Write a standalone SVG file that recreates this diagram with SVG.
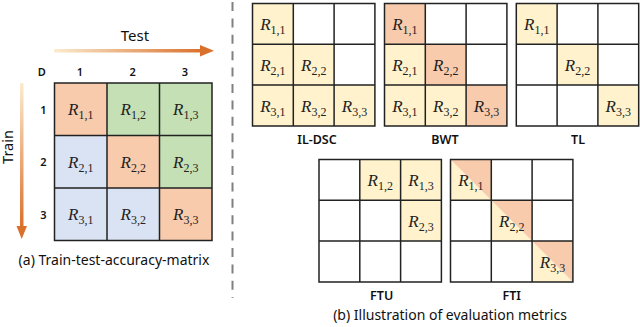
<svg xmlns="http://www.w3.org/2000/svg" width="640" height="327" viewBox="0 0 640 327">
<defs>
<linearGradient id="gh" x1="0" y1="0" x2="1" y2="0">
<stop offset="0" stop-color="#FBEBCF"/>
<stop offset="1" stop-color="#D9712C"/>
</linearGradient>
<linearGradient id="gv" x1="0" y1="0" x2="0" y2="1">
<stop offset="0" stop-color="#FBEBCF"/>
<stop offset="1" stop-color="#D9712C"/>
</linearGradient>
<style>
.g{stroke:#222;stroke-width:1.5;fill:none}
.o{fill:#F8CBAD}.gr{fill:#C5E0B4}.b{fill:#DAE3F3}.y{fill:#FFF2CC}
.r{font-family:"Liberation Serif","DejaVu Serif",serif;font-style:italic;font-size:17px;fill:#222;text-anchor:middle}
.r tspan{font-style:normal;font-size:12px}
.s{font-family:"Noto Sans","Liberation Sans",sans-serif;fill:#111;text-anchor:middle}
.h{font-size:11px;font-weight:600}
.l{font-size:12.5px;font-weight:600}
.c{font-size:14px}
</style>
</defs>

<g id="test-arrow">
<rect x="54" y="49" width="148" height="3.5" fill="url(#gh)"/>
<polygon points="200,45 214,50.7 200,56.5" fill="#D9712C"/>
<text class="s" x="135" y="41" font-size="15px">Test</text>
</g>
<g id="train-arrow">
<rect x="20" y="83" width="3.5" height="144" fill="url(#gv)"/>
<polygon points="16.5,226 21.7,239 27,226" fill="#D9712C"/>
<text class="s" transform="translate(12.5,147) rotate(-90)" font-size="14.5px">Train</text>
</g>

<g id="matrix-a">
<text class="s h" x="41.7" y="75.7">D</text>
<text class="s h" x="80" y="75.7">1</text>
<text class="s h" x="132.7" y="75.7">2</text>
<text class="s h" x="185" y="75.7">3</text>
<text class="s h" x="43.3" y="113.5">1</text>
<text class="s h" x="43.3" y="166">2</text>
<text class="s h" x="43.3" y="218.5">3</text>
<rect class="o" x="54.5" y="83" width="52.5" height="52.5"/>
<rect class="gr" x="107" y="83" width="52.5" height="52.5"/>
<rect class="gr" x="159.5" y="83" width="52.5" height="52.5"/>
<rect class="b" x="54.5" y="135.5" width="52.5" height="52.5"/>
<rect class="o" x="107" y="135.5" width="52.5" height="52.5"/>
<rect class="gr" x="159.5" y="135.5" width="52.5" height="52.5"/>
<rect class="b" x="54.5" y="188" width="52.5" height="52.5"/>
<rect class="b" x="107" y="188" width="52.5" height="52.5"/>
<rect class="o" x="159.5" y="188" width="52.5" height="52.5"/>
<path class="g" d="M54.5,83H212V240.5H54.5Z M107,83V240.5 M159.5,83V240.5 M54.5,135.5H212 M54.5,188H212"/>
<text class="r" x="80.75" y="115">R<tspan dy="4">1,1</tspan></text>
<text class="r" x="133.25" y="115">R<tspan dy="4">1,2</tspan></text>
<text class="r" x="185.75" y="115">R<tspan dy="4">1,3</tspan></text>
<text class="r" x="80.75" y="167.5">R<tspan dy="4">2,1</tspan></text>
<text class="r" x="133.25" y="167.5">R<tspan dy="4">2,2</tspan></text>
<text class="r" x="185.75" y="167.5">R<tspan dy="4">2,3</tspan></text>
<text class="r" x="80.75" y="220">R<tspan dy="4">3,1</tspan></text>
<text class="r" x="133.25" y="220">R<tspan dy="4">3,2</tspan></text>
<text class="r" x="185.75" y="220">R<tspan dy="4">3,3</tspan></text>
<text class="s c" x="114" y="265">(a) Train-test-accuracy-matrix</text>
</g>

<g id="separator">
<line x1="232.5" y1="2" x2="232.5" y2="298" stroke="#808080" stroke-width="2" stroke-dasharray="9,7.4"/>
</g>

<g id="il-dsc">
<rect class="y" x="252.5" y="3.5" width="40.8" height="40.8"/>
<rect class="y" x="252.5" y="44.3" width="81.6" height="40.8"/>
<rect class="y" x="252.5" y="85.1" width="122.4" height="40.8"/>
<path class="g" d="M252.5,3.5h122.4v122.4h-122.4Z M293.3,3.5v122.4 M334.1,3.5v122.4 M252.5,44.3h122.4 M252.5,85.1h122.4"/>
<text class="r" x="272.9" y="30">R<tspan dy="4">1,1</tspan></text>
<text class="r" x="272.9" y="70.8">R<tspan dy="4">2,1</tspan></text>
<text class="r" x="313.7" y="70.8">R<tspan dy="4">2,2</tspan></text>
<text class="r" x="272.9" y="111.6">R<tspan dy="4">3,1</tspan></text>
<text class="r" x="313.7" y="111.6">R<tspan dy="4">3,2</tspan></text>
<text class="r" x="354.5" y="111.6">R<tspan dy="4">3,3</tspan></text>
<text class="s l" x="317" y="144">IL-DSC</text>
</g>

<g id="bwt">
<rect class="o" x="384.5" y="3.5" width="40.8" height="40.8"/>
<rect class="y" x="384.5" y="44.3" width="40.8" height="40.8"/>
<rect class="o" x="425.3" y="44.3" width="40.8" height="40.8"/>
<rect class="y" x="384.5" y="85.1" width="81.6" height="40.8"/>
<rect class="o" x="466.1" y="85.1" width="40.8" height="40.8"/>
<path class="g" d="M384.5,3.5h122.4v122.4h-122.4Z M425.3,3.5v122.4 M466.1,3.5v122.4 M384.5,44.3h122.4 M384.5,85.1h122.4"/>
<text class="r" x="404.9" y="30">R<tspan dy="4">1,1</tspan></text>
<text class="r" x="404.9" y="70.8">R<tspan dy="4">2,1</tspan></text>
<text class="r" x="445.7" y="70.8">R<tspan dy="4">2,2</tspan></text>
<text class="r" x="404.9" y="111.6">R<tspan dy="4">3,1</tspan></text>
<text class="r" x="445.7" y="111.6">R<tspan dy="4">3,2</tspan></text>
<text class="r" x="486.5" y="111.6">R<tspan dy="4">3,3</tspan></text>
<text class="s l" x="445" y="144">BWT</text>
</g>

<g id="tl">
<rect class="y" x="516.3" y="3.5" width="40.8" height="40.8"/>
<rect class="y" x="557.1" y="44.3" width="40.8" height="40.8"/>
<rect class="y" x="597.9" y="85.1" width="40.8" height="40.8"/>
<path class="g" d="M516.3,3.5h122.4v122.4h-122.4Z M557.1,3.5v122.4 M597.9,3.5v122.4 M516.3,44.3h122.4 M516.3,85.1h122.4"/>
<text class="r" x="536.7" y="30">R<tspan dy="4">1,1</tspan></text>
<text class="r" x="577.5" y="70.8">R<tspan dy="4">2,2</tspan></text>
<text class="r" x="618.3" y="111.6">R<tspan dy="4">3,3</tspan></text>
<text class="s l" x="578" y="144">TL</text>
</g>

<g id="ftu">
<rect class="y" x="359.8" y="159.5" width="81.6" height="40.8"/>
<rect class="y" x="400.6" y="200.3" width="40.8" height="40.8"/>
<path class="g" d="M319,159.5h122.4v122.4h-122.4Z M359.8,159.5v122.4 M400.6,159.5v122.4 M319,200.3h122.4 M319,241.1h122.4"/>
<text class="r" x="380.2" y="186">R<tspan dy="4">1,2</tspan></text>
<text class="r" x="421" y="186">R<tspan dy="4">1,3</tspan></text>
<text class="r" x="421" y="226.8">R<tspan dy="4">2,3</tspan></text>
<text class="s l" x="381.7" y="300">FTU</text>
</g>

<g id="fti">
<polygon class="y" points="450.5,159.5 491.3,200.3 450.5,200.3"/>
<polygon class="o" points="450.5,159.5 491.3,159.5 491.3,200.3"/>
<polygon class="y" points="491.3,200.3 532.1,241.1 491.3,241.1"/>
<polygon class="o" points="491.3,200.3 532.1,200.3 532.1,241.1"/>
<polygon class="y" points="532.1,241.1 572.9,281.9 532.1,281.9"/>
<polygon class="o" points="532.1,241.1 572.9,241.1 572.9,281.9"/>
<path class="g" d="M450.5,159.5h122.4v122.4h-122.4Z M491.3,159.5v122.4 M532.1,159.5v122.4 M450.5,200.3h122.4 M450.5,241.1h122.4"/>
<text class="r" x="470.9" y="186">R<tspan dy="4">1,1</tspan></text>
<text class="r" x="511.7" y="226.8">R<tspan dy="4">2,2</tspan></text>
<text class="r" x="552.5" y="267.6">R<tspan dy="4">3,3</tspan></text>
<text class="s l" x="511.7" y="300">FTI</text>
<text class="s c" x="450" y="320">(b) Illustration of evaluation metrics</text>
</g>
</svg>
